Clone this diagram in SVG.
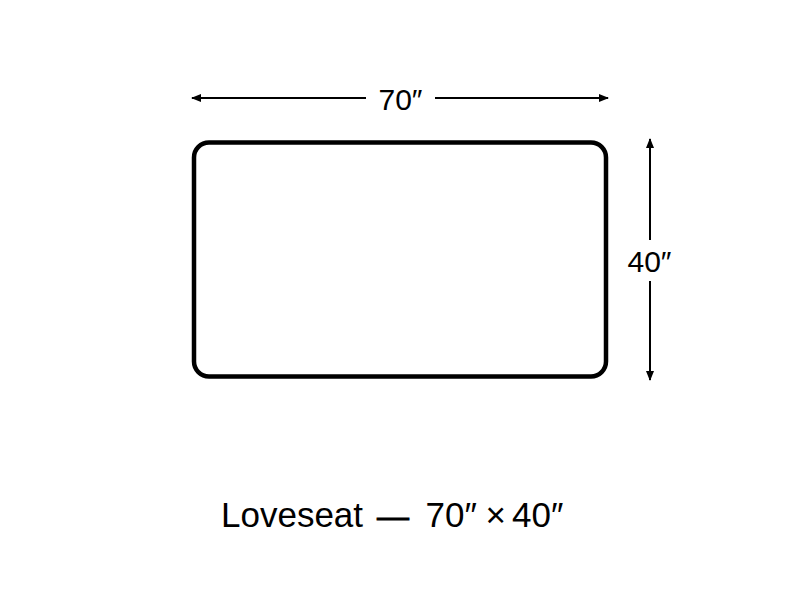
<svg xmlns="http://www.w3.org/2000/svg" width="800" height="600" viewBox="0 0 800 600">
<style>
.dim{stroke:#000;stroke-width:2;fill:none}
.lbl{font-family:"Liberation Sans",Arial,sans-serif;fill:#000}
</style>
<defs>
<marker id="ah" viewBox="0 0 10 10" refX="9" refY="5" markerWidth="5" markerHeight="5" orient="auto-start-reverse" markerUnits="strokeWidth">
<path d="M0,1 L10,5 L0,9 Z" fill="#000"/>
</marker>
</defs>
<rect width="800" height="600" fill="#fff"/>
<g id="loveseat">
<rect x="194" y="142.5" width="412" height="234" rx="15" ry="15" fill="#fff" stroke="#000" stroke-width="4.5"/>
</g>
<g id="connectors">
<line class="dim" x1="192" y1="98" x2="366" y2="98" marker-start="url(#ah)"/>
<line class="dim" x1="435" y1="98" x2="608" y2="98" marker-end="url(#ah)"/>
<line class="dim" x1="650" y1="139" x2="650" y2="240" marker-start="url(#ah)"/>
<line class="dim" x1="650" y1="281" x2="650" y2="380" marker-end="url(#ah)"/>
</g>
<g id="labels">
<text class="lbl" x="400.5" y="110" font-size="30" text-anchor="middle">70″</text>
<text class="lbl" x="649.5" y="272" font-size="30" text-anchor="middle">40″</text>
<text class="lbl" y="527" font-size="35"><tspan x="221">Loveseat</tspan><tspan x="377" font-size="32" stroke="#000" stroke-width="0.9">—</tspan><tspan x="425.5">70″</tspan><tspan x="485.5">×</tspan><tspan x="512">40″</tspan></text>
</g>
</svg>
